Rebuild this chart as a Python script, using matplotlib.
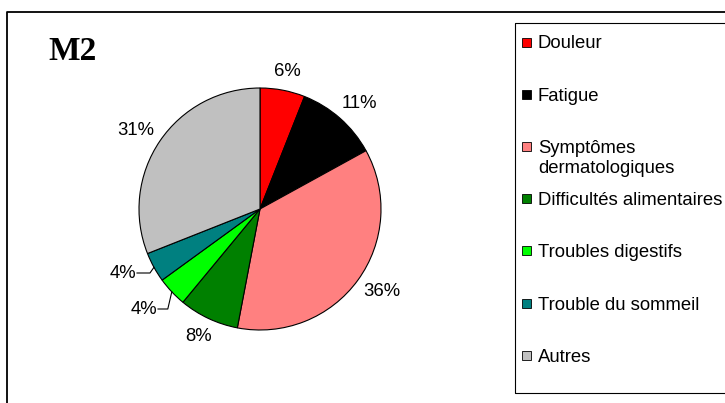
import matplotlib.pyplot as plt
import matplotlib.patches as mpatches
import numpy as np

# M2 - répartition des symptômes
categories = ['Douleur', 'Fatigue', 'Symptômes\ndermatologiques', 'Difficultés alimentaires',
              'Troubles digestifs', 'Trouble du sommeil', 'Autres']
values = [6, 11, 36, 8, 4, 4, 31]
colors = ['#FF0000', '#000000', '#FF8080', '#008000', '#00FF00', '#008080', '#C0C0C0']

W, H = 725, 403
fig = plt.figure(figsize=(W / 100, H / 100), dpi=100)
ax = fig.add_axes([0, 0, 1, 1])

cx, cy, r = 260, H - 209, 121
wedges, _ = ax.pie(values, colors=colors, startangle=90, counterclock=False,
                   center=(cx, cy), radius=r,
                   wedgeprops=dict(edgecolor='black', linewidth=0.8))
ax.set_xlim(0, W)
ax.set_ylim(0, H)
ax.set_aspect('equal')
ax.axis('off')

font = 'Liberation Sans'
fs = 13.3

# pourcentages autour du camembert (ancre à 1.09 r, décalée selon la taille du texte)
fig.canvas.draw()
rend = fig.canvas.get_renderer()
for i, (w, v) in enumerate(zip(wedges, values)):
    ang = np.deg2rad((w.theta1 + w.theta2) / 2)
    lab = '%d%%' % v
    if i in (4, 5):
        ex, ey = cx + r * np.cos(ang), cy + r * np.sin(ang)
        tx = {4: 157, 5: 136}[i]
        ty = {4: H - 309, 5: H - 273}[i]
        ax.text(tx, ty, lab, ha='right', va='center', fontsize=fs, family=font)
        ax.plot([tx + 1, ex - 4, ex], [ty, ty, ey], color='black', lw=0.8)
    else:
        t = ax.text(0, 0, lab, ha='center', va='center', fontsize=fs, family=font)
        bb = t.get_window_extent(rend)
        d = 1.09 * r
        t.set_position((cx + d * np.cos(ang) + bb.width / 2 * np.cos(ang),
                        cy + d * np.sin(ang) + bb.height / 2 * np.sin(ang)))

ax.text(48, H - 52, 'M2', fontsize=24, fontweight='bold', family='Liberation Serif',
        ha='left', va='center')

# cadre extérieur
ax.plot([7.5, 7.5, W + 5], [-5, H - 12, H - 12], color='black', lw=1.3, clip_on=False)

# légende
ax.plot([W + 5, 515.5, 515.5, W + 5], [H - 23, H - 23, H - 393, H - 393], color='black', lw=0.8)
for i, (lab, col) in enumerate(zip(categories, colors)):
    y = H - (42 + i * 52.2)
    ax.add_patch(mpatches.Rectangle((522, y - 4.5), 9.5, 9, facecolor=col, edgecolor='black', lw=0.6))
    for j, line in enumerate(lab.split('\n')):
        ax.text(538, y - j * 20, line, ha='left', va='center_baseline', fontsize=fs, family=font)

fig.savefig('out.png', dpi=100)
